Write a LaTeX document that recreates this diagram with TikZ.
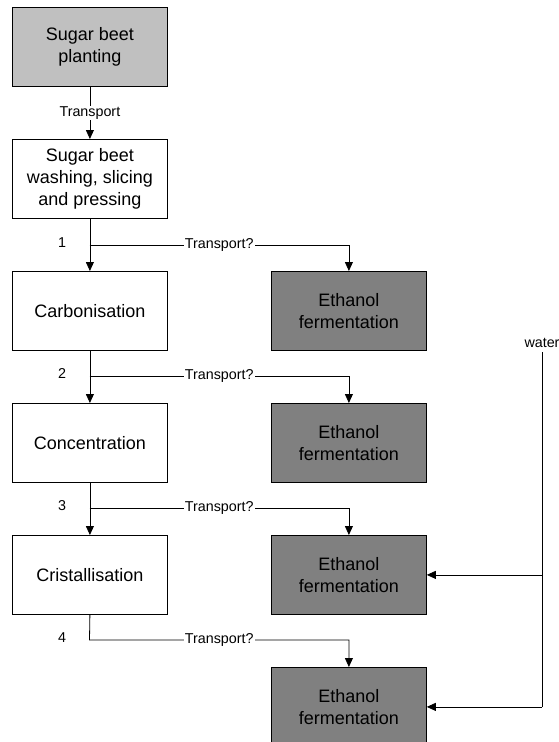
\documentclass[tikz,border=0pt]{standalone}
\usepackage{fontspec}
\setmainfont{Liberation Sans}
\usetikzlibrary{arrows.meta}
\definecolor{lgray}{HTML}{C0C0C0}
\definecolor{dgray}{HTML}{808080}
\begin{document}
\begin{tikzpicture}[x=1pt,y=-1pt,
  proc/.style={draw=black, line width=0.8pt, minimum width=155pt, minimum height=79pt,
    align=center, font=\fontsize{18}{21.7}\selectfont, inner sep=0pt, anchor=north west},
  plant/.style={proc, fill=lgray},
  ferm/.style={proc, fill=dgray},
  lbl/.style={font=\fontsize{14.3}{16}\selectfont, inner sep=1pt},
  conn/.style={line width=0.8pt, -{Triangle[width=8pt,length=9pt]}},
  plain/.style={line width=0.8pt}
]
\useasboundingbox (0,0) rectangle (558,742);

% process column
\node[plant] (p)  at (12,7)   {Sugar beet\\planting};
\node[proc]  (w)  at (12,139) {Sugar beet\\washing, slicing\\and pressing};
\node[proc]  (c)  at (12,271) {Carbonisation};
\node[proc]  (k)  at (12,403) {Concentration};
\node[proc]  (cr) at (12,535) {Cristallisation};

% fermentation column
\node[ferm] (e1) at (271,271) {Ethanol\\fermentation};
\node[ferm] (e2) at (271,403) {Ethanol\\fermentation};
\node[ferm] (e3) at (271,535) {Ethanol\\fermentation};
\node[ferm] (e4) at (271,667) {Ethanol\\fermentation};

% main flow
\draw[conn] (p) -- node[lbl, fill=white] {Transport} (w);
\draw[conn] (w) -- (c);
\draw[conn] (c) -- (k);
\draw[conn] (k) -- (cr);

% branch points
\coordinate (b1) at (89.5,245);
\coordinate (b2) at (89.5,376);
\coordinate (b3) at (89.5,508);
\coordinate (b4) at (89.5,640);

\foreach \b/\e in {b1/e1, b2/e2, b3/e3}{
  \draw[conn] (\b) -- node[lbl, fill=white] {Transport?} (\b -| \e.north) -- (\e.north);
}
\draw[conn] (cr.south) -- (b4) -- node[lbl, fill=white] {Transport?} (b4 -| e4.north) -- (e4.north);

\foreach \b/\n in {b1/1, b2/2, b3/3, b4/4}{
  \node[lbl] at ([xshift=-27.5pt,yshift=2pt]\b) {\n};
}

% water supply
\node[lbl, anchor=south] (water) at (542,349) {water};
\coordinate (wt) at (542,352);
\draw[plain] (wt) -- (wt |- e4.east);
\draw[conn] (wt |- e3.east) -- (e3.east);
\draw[conn] (wt |- e4.east) -- (e4.east);
\end{tikzpicture}
\end{document}
